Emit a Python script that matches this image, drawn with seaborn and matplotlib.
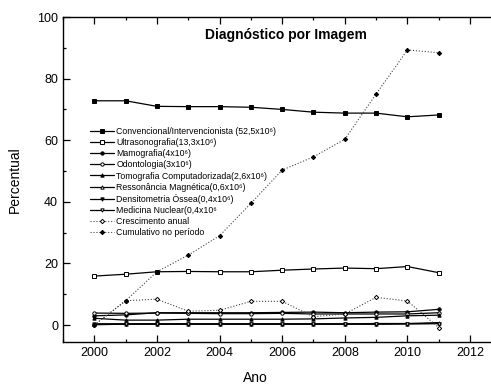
import matplotlib
matplotlib.use('Agg')
import matplotlib.pyplot as plt
import seaborn as sns
from matplotlib.ticker import MultipleLocator

anos = [2000, 2001, 2002, 2003, 2004, 2005, 2006, 2007, 2008, 2009, 2010, 2011]

convencional = [72.8, 72.8, 71.0, 70.9, 70.9, 70.7, 70.0, 69.1, 68.8, 68.8, 67.6, 68.2]
ultrasonografia = [15.9, 16.5, 17.3, 17.4, 17.3, 17.3, 17.8, 18.2, 18.5, 18.3, 19.0, 17.0]
mamografia = [3.0, 3.3, 4.0, 4.0, 4.0, 4.0, 4.1, 4.2, 4.0, 4.2, 4.3, 5.1]
odontologia = [3.9, 3.8, 3.9, 3.8, 3.7, 3.7, 3.8, 3.6, 3.6, 3.6, 3.6, 4.0]
tomografia = [2.2, 1.6, 1.6, 1.9, 1.9, 1.9, 1.9, 2.0, 2.3, 2.5, 3.0, 3.2]
ressonancia = [0.4, 0.4, 0.4, 0.4, 0.4, 0.4, 0.4, 0.4, 0.4, 0.5, 0.5, 0.8]
densitometria = [0.1, 0.3, 0.3, 0.3, 0.3, 0.3, 0.3, 0.3, 0.3, 0.3, 0.4, 0.5]
medicina_nuclear = [0.3, 0.3, 0.3, 0.3, 0.3, 0.3, 0.3, 0.3, 0.3, 0.3, 0.4, 0.5]
crescimento = [0.0, 7.9, 8.4, 4.5, 4.8, 7.7, 7.7, 2.7, 3.6, 9.0, 7.8, -0.8]
cumulativo = [0.0, 7.9, 17.3, 22.7, 29.0, 39.5, 50.3, 54.6, 60.3, 75.0, 89.3, 88.4]

rotulos = [
    'Convencional/Intervencionista (52,5x10⁶)',
    'Ultrasonografia(13,3x10⁶)',
    'Mamografia(4x10⁶)',
    'Odontologia(3x10⁶)',
    'Tomografia Computadorizada(2,6x10⁶)',
    'Ressonância Magnética(0,6x10⁶)',
    'Densitometria Óssea(0,4x10⁶)',
    'Medicina Nuclear(0,4x10⁶',
    'Crescimento anual',
    'Cumulativo no período',
]

series = [convencional, ultrasonografia, mamografia, odontologia, tomografia,
          ressonancia, densitometria, medicina_nuclear, crescimento, cumulativo]
# marker, filled, linestyle
estilos = [('s', True, '-'), ('s', False, '-'), ('o', True, '-'), ('o', False, '-'),
           ('^', True, '-'), ('^', False, '-'), ('v', True, '-'), ('v', False, '-'),
           ('D', False, ':'), ('D', True, ':')]

sns.set_style('ticks', {'axes.edgecolor': 'black', 'text.color': 'black',
                        'axes.labelcolor': 'black', 'xtick.color': 'black',
                        'ytick.color': 'black'})
plt.rcParams['font.family'] = ['Liberation Sans', 'DejaVu Sans']

fig = plt.figure(figsize=(4.91, 3.85), dpi=100)
ax = fig.add_axes([63 / 491, 43 / 385, 428 / 491, 325 / 385])

for vals, rot, (mk, cheio, ls) in zip(series, rotulos, estilos):
    sns.lineplot(x=anos, y=vals, ax=ax, label=rot,
                 color='black' if ls == '-' else '#444444',
                 linestyle=ls, linewidth=0.9 if ls == '-' else 0.8,
                 marker=mk, markersize=2.4 if mk != 'D' else 2.2,
                 markerfacecolor='black' if cheio else 'white',
                 markeredgecolor='black', markeredgewidth=0.7)

ax.set_xlim(1999, 2012.67)
ax.set_ylim(-5.5, 100)
ax.xaxis.set_major_locator(MultipleLocator(2))
ax.xaxis.set_minor_locator(MultipleLocator(1))
ax.yaxis.set_major_locator(MultipleLocator(20))
ax.yaxis.set_minor_locator(MultipleLocator(10))
ax.tick_params(which='both', direction='in', top=True, right=False, labelsize=9)
ax.tick_params(which='major', length=5, width=0.9)
ax.tick_params(which='minor', length=2.5, width=0.9)
ax.spines['right'].set_visible(False)
for s in ['left', 'bottom', 'top']:
    ax.spines[s].set_linewidth(1.0)

ax.set_xlabel('Ano', fontsize=10)
ax.set_ylabel('Percentual', fontsize=10)
ax.xaxis.set_label_coords(0.45, -0.09)
ax.yaxis.set_label_coords(-0.095, 0.5)

ax.text(0.52, 0.945, 'Diagnóstico por Imagem', transform=ax.transAxes,
        ha='center', va='center', fontsize=10, fontweight='bold')

leg = ax.legend(loc='upper left', bbox_to_anchor=(0.055, 0.672), frameon=False,
                fontsize=6.3, handlelength=2.7, handletextpad=0.3,
                labelspacing=0.24, borderaxespad=0)

fig.savefig('out.png', dpi=100)
